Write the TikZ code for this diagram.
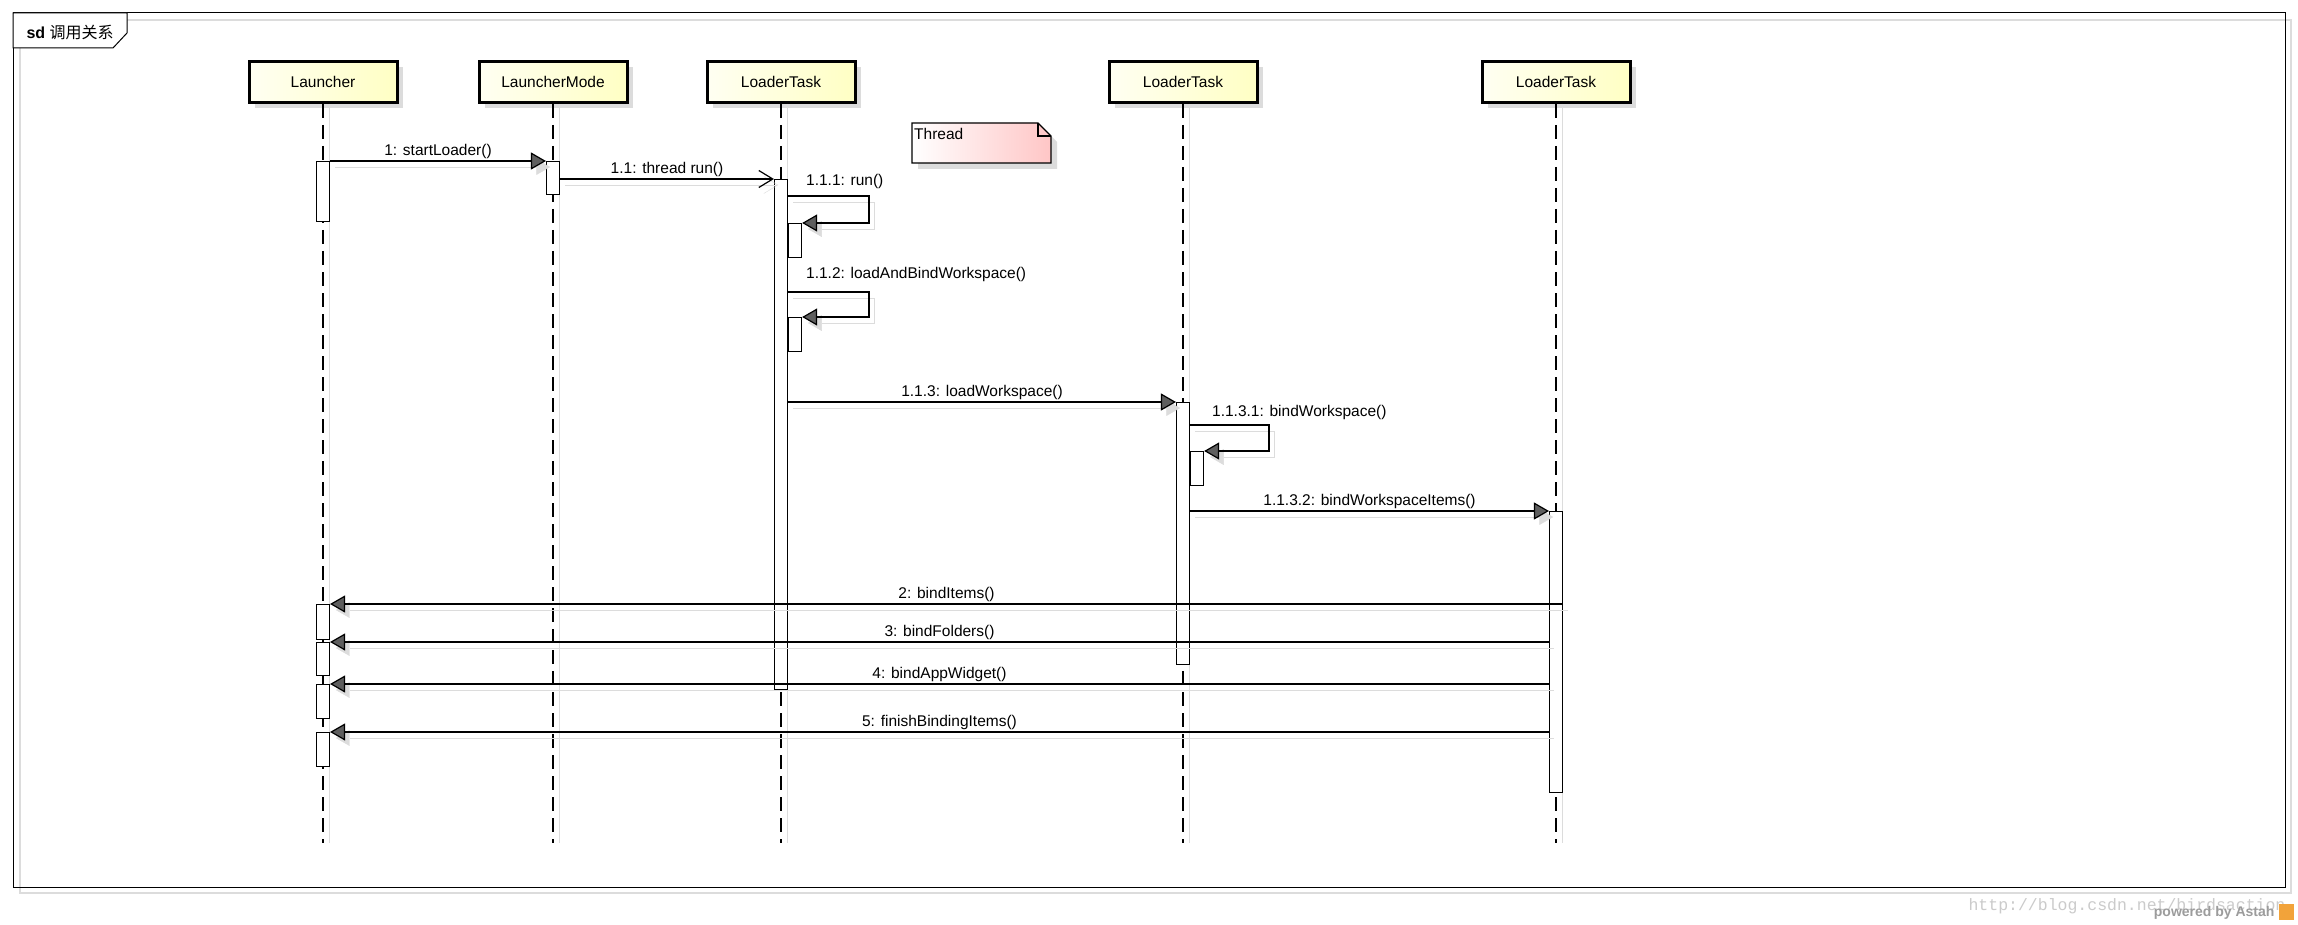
\documentclass[tikz,border=0pt]{standalone}
\usepackage{fontspec}
\setmainfont{Liberation Sans}
\newfontfamily\cjk{Noto Sans CJK SC}
\newfontfamily\wmfont{Liberation Mono}
\usepackage{tikz}
\usetikzlibrary{arrows.meta,positioning,calc,shadows}
\definecolor{SqHead}{HTML}{FFFFC4}
\definecolor{SqHeadSoft}{HTML}{FFFFF2}
\definecolor{SqNote}{HTML}{FFC6C6}
\definecolor{SqShade}{HTML}{DCDCDC}
\definecolor{SqArrow}{HTML}{5E5E5E}
\definecolor{SqMark}{HTML}{CBCBCB}
\definecolor{SqAstah}{HTML}{9C9C9C}
\definecolor{SqLogo}{HTML}{F2A33A}

\tikzset{
  head/.style={draw, line width=3pt, left color=SqHeadSoft, right color=SqHead,
    minimum width=148pt, minimum height=41pt, inner sep=0pt,
    drop shadow={shadow xshift=6pt, shadow yshift=-6pt, fill=SqShade, opacity=1}},
  life/.style={line width=1.2pt, dash pattern=on 14pt off 7pt,
    preaction={draw=SqShade, solid, transform canvas={shift={(6pt,0pt)}}}},
  act/.style={draw, fill=white, line width=1.1pt, minimum width=13pt,
    inner sep=0pt, anchor=north},
  sub/.style={act, anchor=north west, minimum height=34pt},
  call/.style={line width=1.2pt, -{Triangle[length=15pt,width=17pt,fill=SqArrow]},
    preaction={draw=SqShade, -{Triangle[length=15pt,width=17pt]},
      transform canvas={shift={(5pt,-6pt)}}}},
  async/.style={line width=1.2pt, -{Straight Barb[length=14pt,width=17pt]},
    preaction={draw=SqShade, transform canvas={shift={(5pt,-6pt)}}}},
  lbl/.style={midway, above, inner sep=1.5pt},
  slbl/.style={anchor=south west, inner sep=1.5pt},
}

\begin{document}
\begin{tikzpicture}[x=1pt, y=-1pt, font=\fontsize{15.5}{18}\selectfont]
    \useasboundingbox (0,0) rectangle (2298,925);
    \fill[white] (0,0) rectangle (2298,925);

    % frame
    \draw[SqShade, line width=1.2pt] (20,20) rectangle (2291,893);
    \draw[line width=1pt] (13,13) rectangle (2285,887);
    \filldraw[fill=white, line width=1pt] (13,13) -- (127,13) -- (127,33)
      -- (113,48) -- (13,48) -- cycle;
    \node[anchor=west, font=\fontsize{16}{18}\selectfont] (sdtag) at (23,32)
      {\textbf{sd} {\cjk 调用关系}};

    % lifelines
    \node[head] (launcher) at (323,82) {Launcher};
    \node[head] (mode) at (553,82) {LauncherMode};
    \node[head] (task) at (781,82) {LoaderTask};
    \node[head] (taskb) at (1183,82) {LoaderTask};
    \node[head] (taskc) at (1556,82) {LoaderTask};
    \foreach \h in {launcher,mode,task,taskb,taskc}
      \draw[life] (\h.south) -- (\h.south |- 0,843);

    % note
    \shadedraw[left color=white, right color=SqNote, line width=1.1pt,
      preaction={fill=SqShade, transform canvas={shift={(6pt,-6pt)}}}]
      (912,123) -- (1038,123) -- (1051,136) -- (1051,163) -- (912,163) -- cycle;
    \draw[line width=1.1pt] (1038,123) -- (1038,136) -- (1051,136);
    \node[anchor=north west, inner xsep=2pt, inner ysep=5pt] (thread) at (912,123) {Thread};

    % activations
    \node[act, minimum height=60pt] (aL) at (launcher |- 0,161) {};
    \node[act, minimum height=33pt] (aM) at (mode |- 0,161) {};
    \node[act, minimum height=510pt] (aT) at (task |- 0,179) {};
    \node[sub] (aTa) at (aT.east |- 0,223) {};
    \node[sub] (aTb) at (aT.east |- 0,317) {};
    \node[act, minimum height=262pt] (aU) at (taskb |- 0,402) {};
    \node[sub] (aUa) at (aU.east |- 0,451) {};
    \node[act, minimum height=281pt] (aV) at (taskc |- 0,511) {};
    \foreach \n/\ytop/\len in {2/604/35, 3/642/33, 4/684/34, 5/732/34}
      \node[act, minimum height=\len pt] (aL\n) at (launcher |- 0,\ytop) {};

    % messages
    \draw[call] (aL.north east) -- (aM.north west) node[lbl] {1: startLoader()};
    \draw[async] (aM.east |- aT.north) -- (aT.north west) node[lbl] {1.1: thread run()};
    \draw[call] (aT.east |- 0,196) node[slbl, xshift=16pt, yshift=5pt] {1.1.1: run()}
      -- ++(81,0) |- (aTa.north east);
    \draw[call] (aT.east |- 0,292) node[slbl, xshift=16pt, yshift=8pt] {1.1.2: loadAndBindWorkspace()}
      -- ++(81,0) |- (aTb.north east);
    \draw[call] (aT.east |- aU.north) -- (aU.north west) node[lbl] {1.1.3: loadWorkspace()};
    \draw[call] (aU.east |- 0,425) node[slbl, xshift=20pt, yshift=3pt] {1.1.3.1: bindWorkspace()}
      -- ++(79,0) |- (aUa.north east);
    \draw[call] (aU.east |- aV.north) -- (aV.north west) node[lbl] {1.1.3.2: bindWorkspaceItems()};
    \draw[call] (aV.east |- aL2.north) -- (aL2.north east) node[lbl] {2: bindItems()};
    \foreach \n/\lbl in {3/bindFolders(), 4/bindAppWidget(), 5/finishBindingItems()}
      \draw[call] (aV.west |- aL\n.north) -- (aL\n.north east) node[lbl] {\n: \lbl};

    % footer
    \node[anchor=west, text=SqMark, font=\wmfont\fontsize{16.5}{18}\selectfont] (mark)
      at (1965,906) {http://blog.csdn.net/birdsaction};
    \node[anchor=east, text=SqAstah, font=\bfseries\fontsize{14}{16}\selectfont] (astah)
      at (2278,913) {powered by Astah};
    \fill[SqLogo] (2279,904) rectangle (2294,920);
\end{tikzpicture}
\end{document}
